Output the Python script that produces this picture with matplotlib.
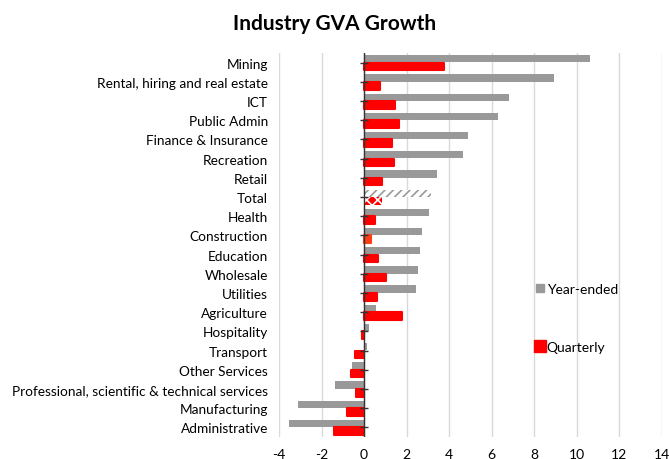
import matplotlib
matplotlib.use("Agg")
import matplotlib.pyplot as plt
import numpy as np
from matplotlib.lines import Line2D

plt.rcParams['font.family'] = ['Lato', 'DejaVu Sans']
plt.rcParams['hatch.linewidth'] = 1.2

categories = ["Mining", "Rental, hiring and real estate", "ICT", "Public Admin",
              "Finance & Insurance", "Recreation", "Retail", "Total", "Health",
              "Construction", "Education", "Wholesale", "Utilities", "Agriculture",
              "Hospitality", "Transport", "Other Services",
              "Professional, scientific & technical services", "Manufacturing",
              "Administrative"]
year_ended = [10.6, 8.92, 6.83, 6.3, 4.89, 4.67, 3.42, 3.15, 3.07, 2.73,
              2.63, 2.54, 2.46, 0.55, 0.23, 0.15, -0.56, -1.36, -3.09, -3.53]
quarterly = [3.76, 0.77, 1.44, 1.66, 1.29, 1.41, 0.86, 0.82, 0.49, 0.31,
             0.64, 1.03, 0.61, 1.76, -0.09, -0.44, -0.61, -0.38, -0.78, -1.41]
xticks = [-4, -2, 0, 2, 4, 6, 8, 10, 12, 14]

GREY = "#999999"
RED = "#ff0000"

fig = plt.figure(figsize=(6.69, 4.60), dpi=100)
ax = fig.add_axes([0.417, 0.048, 0.5725, 0.8345])

y = np.arange(len(categories))
for i, (ye, q) in enumerate(zip(year_ended, quarterly)):
    if categories[i] == "Total":
        ax.barh(i - 0.2, ye, height=0.38, color="white", edgecolor=GREY,
                hatch="////", linewidth=0, zorder=3)
        ax.barh(i + 0.2, q, height=0.4, color=RED, edgecolor="white",
                hatch="xxx", linewidth=0, zorder=3)
    else:
        ax.barh(i - 0.2, ye, height=0.38, color=GREY, linewidth=0, zorder=3)
        qc = "#ff3c14" if categories[i] == "Construction" else RED
        ax.barh(i + 0.2, q, height=0.4, color=qc, edgecolor=qc,
                linewidth=1.5, joinstyle="round", zorder=3)

ax.set_xlim(-4, 14)
ax.set_ylim(len(categories) - 0.5, -0.5)
ax.set_xticks(xticks)
ax.set_xticklabels([str(t) for t in xticks], fontsize=10)
ax.set_yticks(y)
ax.set_yticklabels(categories, fontsize=9.8)
ax.tick_params(axis="y", length=0, pad=8)
ax.tick_params(axis="x", length=0, pad=8)

for s in ax.spines.values():
    s.set_visible(False)
ax.grid(axis="x", color="#d9d9d9", linewidth=1, zorder=0)
ax.set_axisbelow(True)
ax.axvline(0, color="#333333", linewidth=1, zorder=4)
ax.plot(np.zeros(len(categories)), y, linestyle="none", marker="_",
        markersize=6, color="#333333", zorder=4)

handles = [Line2D([], [], linestyle="none", marker="s", markersize=6,
                  color=GREY, label="Year-ended"),
           Line2D([], [], linestyle="none", marker="s", markersize=9,
                  color=RED, label="Quarterly")]
fig.legend(handles=handles, loc="upper left", bbox_to_anchor=(0.78, 0.41),
           frameon=False, fontsize=10, labelspacing=3.3, handletextpad=0.1,
           handlelength=0.8)

fig.text(0.5, 0.948, "Industry GVA Growth", ha="center", va="center",
         fontsize=15, fontweight="bold")

fig.savefig("out.png", dpi=100)
